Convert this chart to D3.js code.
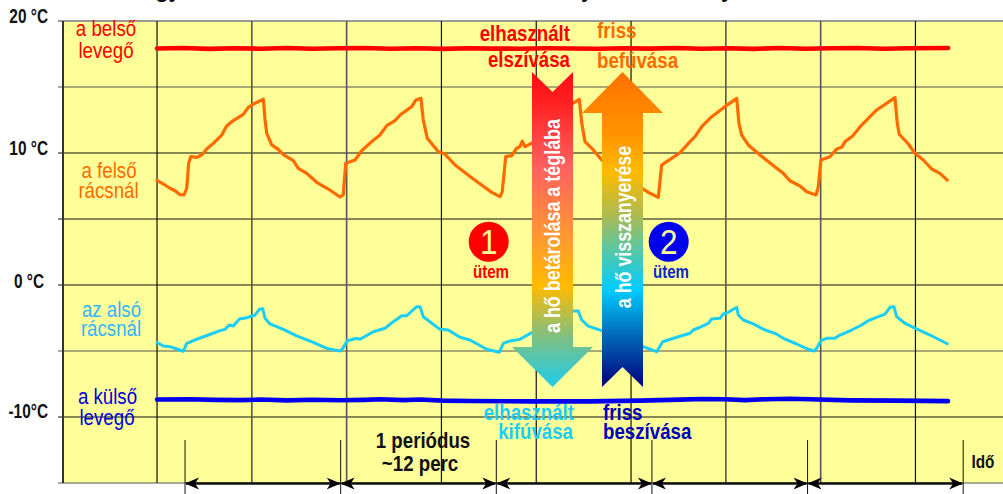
<!DOCTYPE html>
<html>
<head>
<meta charset="utf-8">
<script src="https://cdn.jsdelivr.net/npm/d3@7"></script>
<style>
html, body { margin: 0; padding: 0; background: #fff; overflow: hidden; }
svg { display: block; }
text { font-family: "Liberation Sans", sans-serif; }
</style>
</head>
<body>
<svg width="1003" height="494"></svg>
<script>
// values: time in minutes, temperature in degrees C
var gridTemps = [20, 15, 10, 5, 0, -5, -10, -15];
var gridTimes = [-7.25, 0, 7.31, 14.62, 21.93, 29.24, 36.55, 43.86, 51.17, 58.48];
var periodStarts = [2.16, 14.16, 26.16, 38.16, 50.16];
var periodMinutes = 12;

var innerTimes = [0, 2, 4, 6, 8, 10, 12, 14, 16, 18, 20, 22, 24, 26, 28, 30, 32, 34, 36, 38, 40, 42, 44, 46, 48, 50, 52, 54, 56, 58, 61];
var innerTemps = [17.92, 17.95, 17.89, 17.93, 17.90, 17.95, 17.90, 17.93, 17.96, 17.90, 17.94, 17.89, 17.93, 17.91, 17.90, 17.93, 17.92, 17.90, 17.94, 17.91, 17.96, 17.90, 17.94, 17.89, 17.95, 17.90, 17.93, 17.96, 17.90, 17.94, 17.95];

var outerTimes = [0, 2.54, 4.5, 6.4, 8, 10, 12, 14.11, 16, 17.19, 19, 20.28, 22, 24.13, 28.76, 33.39, 37.24, 40.32, 42, 43.79, 45.34, 47, 48.8, 50.35, 53.43, 57, 60.99];
var outerTemps = [-8.67, -8.65, -8.70, -8.72, -8.68, -8.74, -8.69, -8.73, -8.70, -8.66, -8.72, -8.68, -8.76, -8.79, -8.82, -8.82, -8.76, -8.68, -8.64, -8.66, -8.72, -8.65, -8.62, -8.66, -8.74, -8.76, -8.80];

var upperTimes = [0, .49, 1, 1.39, 1.77, 2.08, 2.29, 2.44, 2.6, 3.06, 3.45, 3.83, 4.34, 4.99, 5.37, 5.76, 6.65, 7.04, 7.56, 8.2, 8.33, 8.46, 8.84, 9.35, 9.74, 10.51, 10.89, 11.54, 12.31, 13.21, 14.11, 14.36, 14.55, 15.27, 15.78, 16.55, 17.19, 17.71, 18.35, 18.74, 19.64, 19.97, 20.35, 20.53, 20.84, 21.69, 22.2, 22.98, 24.39, 25.81, 26.45, 26.62, 26.89, 27.35, 27.73, 27.99, 28.16, 28.37, 28.89, 30.69, 31.97, 32.56, 32.75, 33, 33.64, 34.29, 35.7, 37.37, 38.01, 38.65, 38.91, 39.3, 40.32, 41.1, 41.48, 42, 42.77, 43.79, 44.7, 44.87, 45.08, 45.59, 46.49, 47.78, 48.29, 48.8, 49.58, 50.09, 50.81, 50.99, 51.19, 51.89, 52.4, 52.79, 53.05, 53.64, 54.33, 55.49, 56.9, 57.08, 57.23, 57.93, 58.44, 59.08, 59.73, 60.37, 60.93];
var upperTemps = [7.93, 7.65, 7.33, 7.14, 6.84, 6.82, 7.33, 9.22, 9.72, 9.67, 9.85, 10.3, 10.73, 11.36, 12.05, 12.37, 12.93, 13.46, 13.77, 14.07, 12.5, 11.49, 10.61, 10.28, 9.87, 9.42, 8.84, 8.46, 7.78, 7.27, 6.67, 6.82, 9.22, 9.47, 10.17, 10.86, 11.36, 12.07, 12.45, 12.88, 13.51, 14.02, 14.14, 12.5, 11.11, 10.1, 9.92, 9.09, 8.03, 7.02, 6.69, 7.07, 9.72, 9.8, 10.36, 10.48, 10.89, 10.48, 10.74, 12.5, 13.71, 14.07, 12.25, 10.86, 10.23, 9.47, 8.56, 7.33, 6.95, 6.64, 9.09, 9.34, 10.02, 10.86, 11.24, 11.99, 12.75, 13.51, 14.14, 12.25, 11.36, 10.61, 9.85, 8.84, 8.46, 7.9, 7.5, 7.07, 6.82, 7.45, 9.47, 9.72, 10.3, 10.43, 10.86, 11.29, 12.12, 13.26, 14.19, 12.25, 11.42, 10.68, 9.98, 9.47, 8.79, 8.46, 7.95];

var lowerTimes = [0, .49, 1, 1.52, 2.03, 2.29, 3.06, 3.96, 4.86, 5.24, 5.57, 5.88, 6.35, 6.92, 7.56, 7.89, 8.15, 8.33, 8.71, 9.74, 10.77, 12.05, 13.08, 14.11, 14.32, 14.67, 15.4, 15.65, 16.68, 17.58, 18.22, 18.87, 19.25, 20.02, 20.28, 20.53, 21.82, 22.46, 23.36, 24.13, 25.42, 26.39, 26.7, 27.22, 27.99, 28.89, 30.69, 32.1, 32.48, 32.75, 33.25, 34.29, 35.85, 37.49, 38.53, 38.99, 40.07, 41.1, 41.35, 41.87, 42.51, 42.77, 43.41, 43.66, 44.05, 44.7, 44.82, 45.2, 45.98, 46.88, 47.65, 48.29, 49.32, 50.22, 50.68, 50.86, 51.19, 51.63, 52.27, 52.66, 53.56, 54.33, 54.84, 56.13, 56.52, 56.82, 57.03, 57.67, 58.57, 59.6, 60.93];
var lowerTemps = [-4.37, -4.62, -4.67, -4.85, -5.02, -4.42, -4.11, -3.79, -3.46, -3.36, -3.03, -3.11, -2.58, -2.48, -2.27, -1.84, -1.8, -2.52, -2.95, -3.36, -3.86, -4.34, -4.8, -5, -4.8, -4.22, -4.04, -4.11, -3.54, -3.28, -2.78, -2.33, -2.33, -1.64, -1.64, -2.4, -3.36, -3.41, -3.96, -4.17, -4.87, -5.1, -4.42, -4.24, -4.11, -3.61, -2.65, -1.97, -1.97, -2.65, -3.11, -3.46, -4.02, -4.67, -5.05, -4.3, -3.96, -3.66, -3.41, -3.2, -2.9, -2.58, -2.52, -2.2, -2.07, -1.69, -2.27, -2.65, -2.95, -3.41, -3.66, -4.04, -4.47, -4.87, -5, -4.8, -4.22, -4.04, -4.04, -3.79, -3.41, -3.03, -2.7, -2.2, -1.69, -1.64, -2.4, -2.9, -3.33, -3.79, -4.45];

var tempLabels = ["20 °C", "10 °C", "0 °C", "-10°C"];
var tempLabelTemps = [20, 10, 0, -10];

var svg = d3.select("svg"),
	left = 63, right = 1003, top_ = 21, bottom = 483;

var x = d3.scaleLinear().domain([-7.25, 65.23]).range([left, right]);
var y = d3.scaleLinear().domain([-15, 20]).range([bottom, top_]);

var defs = svg.append("defs");

function gradient(id, stops) {
	var g = defs.append("linearGradient").attr("id", id)
		.attr("gradientUnits", "userSpaceOnUse")
		.attr("x1", 0).attr("x2", 0).attr("y1", 72).attr("y2", 387);
	stops.forEach(function(s) {
		g.append("stop").attr("offset", s[0]).attr("stop-color", s[1]);
	});
}
gradient("grad-down", [[0, "#ff0a14"], [.1, "#ff2222"], [.3, "#ff6060"], [.53, "#ff9a30"], [.68, "#ffbb00"], [.84, "#80c080"], [1, "#1cccee"]]);
gradient("grad-up", [[0, "#ff7000"], [.2, "#ff9500"], [.32, "#ffbb00"], [.46, "#a8bb55"], [.57, "#55c8a8"], [.69, "#00ccff"], [.85, "#0060b0"], [1, "#000080"]]);

svg.append("rect")
	.attr("x", left).attr("y", top_)
	.attr("width", right - left).attr("height", bottom - top_)
	.attr("fill", "#ffff99");

// grid
svg.append("g").selectAll("line")
	.data(gridTemps)
	.enter().append("line")
	.attr("x1", left - 5).attr("x2", right)
	.attr("y1", function(d) { return y(d); })
	.attr("y2", function(d) { return y(d); })
	.attr("stroke", function(d) { return d == 20 ? "#999" : d == 15 || d == -5 || d == -15 ? "#555" : "#111"; })
	.attr("stroke-width", function(d) { return d == 20 ? 2 : 1.2; });

svg.append("g").selectAll("line")
	.data(gridTimes)
	.enter().append("line")
	.attr("x1", function(d) { return x(d); })
	.attr("x2", function(d) { return x(d); })
	.attr("y1", top_).attr("y2", bottom)
	.attr("stroke", function(d, i) { return i == 0 ? "#333" : i % 5 == 2 || i % 5 == 3 ? "#555" : "#111"; })
	.attr("stroke-width", function(d, i) { return i == 0 ? 2 : i % 5 == 2 || i % 5 == 3 ? 1.6 : 1.2; });

// squeezed text, the picture uses a narrow face
function label(px, py, str, color, size, weight, anchor, sx, rotate) {
	return svg.append("text")
		.attr("transform", "translate(" + px + "," + py + ")" + (rotate ? " rotate(" + rotate + ")" : "") + " scale(" + (sx || .85) + ",1)")
		.attr("fill", color)
		.attr("font-size", size)
		.attr("font-weight", weight || "normal")
		.attr("text-anchor", anchor || "middle")
		.text(str);
}

// temperature labels
tempLabels.forEach(function(d, i) {
	label(i == 2 ? 44 : 48, y(tempLabelTemps[i]) + [2, 2, 3, 1][i], d, "#111", 20, "bold", "end", .77);
});

// curves
var line = d3.line()
	.x(function(d) { return x(d[0]); })
	.y(function(d) { return y(d[1]); });

function curve(times, temps, color, width) {
	svg.append("path")
		.attr("d", line(d3.zip(times, temps)))
		.attr("fill", "none")
		.attr("stroke", color)
		.attr("stroke-width", width)
		.attr("stroke-linejoin", "round")
		.attr("stroke-linecap", "round");
}
curve(upperTimes, upperTemps, "#ff6a00", 3.2);
curve(lowerTimes, lowerTemps, "#1ccdf5", 3);
curve(innerTimes, innerTemps, "#ff0000", 4.6);
curve(outerTimes, outerTemps, "#0000ee", 4.6);

// period marks
var periodEdges = periodStarts.concat([periodStarts[periodStarts.length - 1] + periodMinutes]);
svg.append("g").selectAll("line")
	.data(periodEdges)
	.enter().append("line")
	.attr("x1", function(d) { return x(d); })
	.attr("x2", function(d) { return x(d); })
	.attr("y1", 440).attr("y2", 494)
	.attr("stroke", "#111");

defs.append("marker").attr("id", "head")
	.attr("viewBox", "0 0 14 14").attr("refX", 13).attr("refY", 7)
	.attr("markerUnits", "userSpaceOnUse")
	.attr("markerWidth", 14).attr("markerHeight", 14)
	.attr("orient", "auto-start-reverse")
	.append("path").attr("d", "M0,1 L14,7 L0,13 L4,7 Z").attr("fill", "#000");

svg.append("g").selectAll("line")
	.data(periodStarts)
	.enter().append("line")
	.attr("x1", function(d) { return x(d) + 1; })
	.attr("x2", function(d) { return x(d + periodMinutes) - 1; })
	.attr("y1", bottom + .5).attr("y2", bottom + .5)
	.attr("stroke", "#111").attr("stroke-width", 2.5)
	.attr("marker-start", "url(#head)")
	.attr("marker-end", "url(#head)");

// big arrows
svg.append("path")
	.attr("d", "M532,72 L552.5,92 L573,72 L573,347 L593,347 L552.5,387 L512,347 L532,347 Z")
	.attr("fill", "url(#grad-down)");
svg.append("path")
	.attr("d", "M622.5,72 L663,113 L643,113 L643,387 L622.5,367 L602,387 L602,113 L582,113 Z")
	.attr("fill", "url(#grad-up)");

label(560, 226, "a hő betárolása a téglába", "#fff", 22, "bold", "middle", .815, -90);
label(631, 227, "a hő visszanyerése", "#fff", 22, "bold", "middle", .81, -90);

// series names
label(106, 36, "a belső", "#ff0000", 22);
label(106, 58, "levegő", "#ff0000", 22);
label(109, 178, "a felső", "#ff6a00", 22);
label(108.5, 198, "rácsnál", "#ff6a00", 22);
label(111.5, 317, "az alsó", "#33b5ff", 22);
label(111, 336, "rácsnál", "#33b5ff", 22);
label(107.5, 404, "a külső", "#0000dd", 22);
label(107, 425, "levegő", "#0000dd", 22);

// flow captions
label(570, 41, "elhasznált", "#ff0000", 22, "bold", "end");
label(570, 67, "elszívása", "#ff0000", 22, "bold", "end");
label(597, 38, "friss", "#ff6a00", 22, "bold", "start");
label(597, 68, "befúvása", "#ff6a00", 22, "bold", "start");
label(574, 420, "elhasznált", "#1ccdf5", 22, "bold", "end");
label(573, 439, "kifúvása", "#1ccdf5", 22, "bold", "end");
label(603, 420, "friss", "#0000bb", 22, "bold", "start");
label(603, 439, "beszívása", "#0000bb", 22, "bold", "start");

label(423, 448, "1 periódus", "#111", 22, "bold");
label(420, 471, "~12 perc", "#111", 22, "bold");
label(983, 468, "Idő", "#111", 18, "bold");

// stroke numbers
svg.append("circle").attr("cx", 488.7).attr("cy", 241.7).attr("r", 20).attr("fill", "#ff0000");
svg.append("circle").attr("cx", 668.7).attr("cy", 241.7).attr("r", 20).attr("fill", "#0000ee");
label(488.7, 253.5, "1", "#ffff99", 35, "normal", "middle", .9);
label(668.7, 253.5, "2", "#ffff99", 35, "normal", "middle", .9);
label(491, 277.5, "ütem", "#ff0000", 18, "bold", "middle", .84);
label(671, 277.5, "ütem", "#0a28c8", 18, "bold", "middle", .84);

// title runs off the top of the picture, only descenders are left
label(168, -3, "gy", "#111", 22, "bold", "middle", 1);
label(587, -3, "y", "#111", 22, "bold", "middle", 1);
label(727, -3, "y", "#111", 22, "bold", "middle", 1);
</script>
</body>
</html>
